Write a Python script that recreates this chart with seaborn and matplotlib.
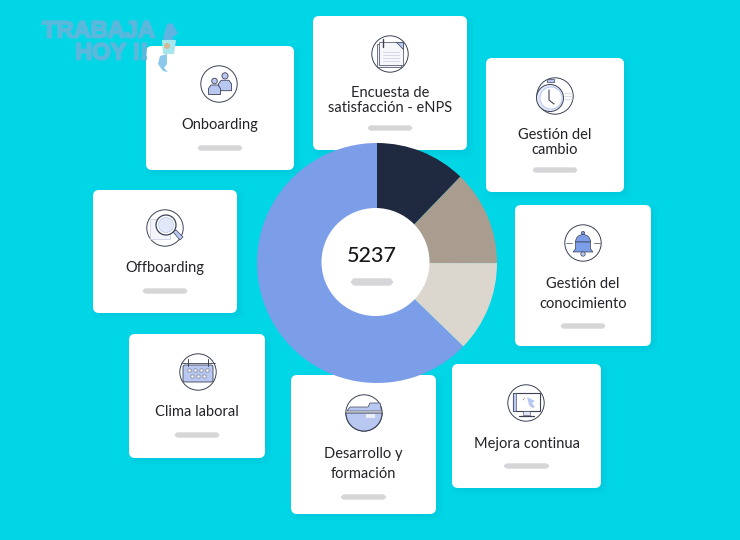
import numpy as np
import matplotlib
matplotlib.use('Agg')
import matplotlib.pyplot as plt
import matplotlib.patheffects as pe
import seaborn as sns
from matplotlib.patches import FancyBboxPatch, Circle, Polygon, Rectangle, Wedge

# valores del grafico
total_label = '5237'
segmentos = ['Oscuro', 'Taupe', 'Claro', 'Azul']
valores = [640, 670, 640, 3287]
colores = ['#1f2a40', '#a99d90', '#dbd7cf', '#7c9de8']

tarjetas = ['Onboarding', 'Encuesta de\nsatisfacción - eNPS', 'Gestión del\ncambio',
            'Gestión del\nconocimiento', 'Mejora continua', 'Desarrollo y\nformación',
            'Clima laboral', 'Offboarding']

FONDO = '#01d6e7'
AZUL = '#7c9de8'
AZUL_CLARO = '#b9c8f0'
LINEA = '#3c4256'
BARRA = '#d6d6d8'

sns.set_theme(style='white')
plt.rcParams['font.family'] = ['Lato', 'DejaVu Sans']

fig = plt.figure(figsize=(7.4, 5.4), dpi=100, facecolor=FONDO)


def ejes_pixeles(zorder):
    ax = fig.add_axes([0, 0, 1, 1], zorder=zorder)
    ax.set_xlim(0, 740)
    ax.set_ylim(540, 0)
    ax.axis('off')
    ax.patch.set_alpha(0)
    return ax


fondo = ejes_pixeles(1)
frente = ejes_pixeles(3)


def barra(ax, cx, cy, w=48, h=5):
    ax.add_patch(FancyBboxPatch((cx - w / 2 + h / 2, cy - h / 2 + 0.5), w - h, h - 1,
                                boxstyle=f'round,pad=0,rounding_size={h / 2}',
                                mutation_aspect=1, fc=BARRA, ec=BARRA, lw=1))


def tarjeta(ax, x0, y0, x1, y1, texto, ty, by, paso=15):
    # sombra suave
    for i, a in zip([9, 6, 3], [0.012, 0.018, 0.025]):
        ax.add_patch(FancyBboxPatch((x0 + 6 - i, y0 + 6 - i), x1 - x0 + 2 * i - 6, y1 - y0 + 2 * i - 6,
                                    boxstyle='round,pad=0,rounding_size=8', fc='#203a70', ec='none', alpha=a))
    ax.add_patch(FancyBboxPatch((x0 + 6, y0 + 6), x1 - x0 - 12, y1 - y0 - 12,
                                boxstyle='round,pad=6,rounding_size=6', fc='white', ec='none'))
    cx = (x0 + x1) / 2
    for i, linea in enumerate(texto.split('\n')):
        ax.text(cx, ty + 1 + i * paso, linea, ha='center', va='center', fontsize=10.5, color='#23242a')
    barra(ax, cx, by)


def anillo(ax, cx, cy):
    ax.add_patch(Circle((cx, cy), 18.2, fc='white', ec=LINEA, lw=0.7))


def persona(ax, cx, cy, esc=1.0):
    ax.add_patch(Circle((cx, cy - 6.5 * esc), 2.8 * esc, fc=AZUL_CLARO, ec=LINEA, lw=0.6))
    ax.add_patch(Polygon([(cx - 6 * esc, cy + 7 * esc), (cx - 6 * esc, cy + 1 * esc), (cx - 3.5 * esc, cy - 2.5 * esc),
                          (cx + 3.5 * esc, cy - 2.5 * esc), (cx + 6 * esc, cy + 1 * esc), (cx + 6 * esc, cy + 7 * esc)],
                         fc=AZUL_CLARO, ec=LINEA, lw=0.6))


def icono_onboarding(ax, cx, cy):
    anillo(ax, cx, cy)
    persona(ax, cx + 6, cy - 1, 1.1)
    persona(ax, cx - 4.5, cy + 3.5, 1.0)


def icono_encuesta(ax, cx, cy):
    anillo(ax, cx, cy)
    ax.add_patch(Rectangle((cx - 13, cy - 10), 24, 23, fc='#eef0f8', ec=LINEA, lw=0.5))
    ax.add_patch(Rectangle((cx - 11, cy - 12), 24, 23, fc='#f6f7fb', ec=LINEA, lw=0.5))
    for dy in [-2, 1, 4, 7]:
        ax.plot([cx - 7, cx + 9], [cy + dy, cy + dy], color='#d5d9e8', lw=0.7)
    ax.plot([cx - 7, cx - 7], [cy - 15, cy - 7], color=LINEA, lw=1)
    ax.add_patch(Polygon([(cx + 6, cy - 12), (cx + 13, cy - 12), (cx + 13, cy - 5)], fc=AZUL_CLARO, ec=LINEA, lw=0.5))


def icono_reloj(ax, cx, cy):
    anillo(ax, cx, cy)
    ax.add_patch(Rectangle((cx - 8, cy - 17), 7, 3, fc=AZUL_CLARO, ec=LINEA, lw=0.5))
    ax.add_patch(Circle((cx - 5, cy + 2), 13.5, fc='#e4e9f9', ec=LINEA, lw=0.7))
    ax.add_patch(Circle((cx - 4, cy + 2), 11, fc='white', ec=AZUL_CLARO, lw=0.7))
    ax.plot([cx - 6, cx - 6, cx - 1], [cy - 6, cy + 4, cy + 8], color=LINEA, lw=0.8)
    for dy in [-3, 0, 3]:
        ax.plot([cx + 9, cx + 17], [cy + dy, cy + dy], color='#d5d9e8', lw=0.6)


def icono_campana(ax, cx, cy):
    anillo(ax, cx, cy)
    ax.add_patch(Wedge((cx, cy - 1), 7.5, 180, 360, fc=AZUL, ec=LINEA, lw=0.5))
    ax.add_patch(Polygon([(cx - 7.5, cy - 1), (cx + 7.5, cy - 1), (cx + 7.5, cy + 6), (cx + 10, cy + 9), (cx - 10, cy + 9), (cx - 7.5, cy + 6)],
                         fc=AZUL, ec=LINEA, lw=0.5))
    ax.add_patch(Circle((cx, cy + 11), 2.2, fc=AZUL_CLARO, ec=LINEA, lw=0.5))
    ax.add_patch(Circle((cx, cy - 10), 1.6, fc=AZUL, ec=LINEA, lw=0.5))
    ax.plot([cx - 17, cx - 11], [cy, cy], color=LINEA, lw=0.5)
    ax.plot([cx + 11, cx + 17], [cy, cy], color=LINEA, lw=0.5)


def icono_monitor(ax, cx, cy):
    anillo(ax, cx, cy)
    ax.add_patch(Rectangle((cx - 13, cy - 10), 27, 18, fc='white', ec=LINEA, lw=0.8))
    ax.add_patch(Rectangle((cx - 13, cy - 10), 2.5, 18, fc=AZUL_CLARO, ec=LINEA, lw=0.4))
    ax.add_patch(Rectangle((cx - 3, cy + 8), 7, 4, fc='#dfe5f6', ec=LINEA, lw=0.4))
    ax.plot([cx - 7, cx + 8], [cy + 13, cy + 13], color=LINEA, lw=0.9)
    ax.add_patch(Polygon([(cx + 1, cy - 6), (cx + 9, cy - 2), (cx + 6, cy), (cx + 9, cy + 4), (cx + 6, cy + 5), (cx + 3, cy + 2)],
                         fc=AZUL_CLARO, ec='none'))
    ax.plot([cx - 3, cx - 1], [cy - 3, cy - 5], color=LINEA, lw=0.6, ls=':')


def icono_carpeta(ax, cx, cy):
    anillo(ax, cx, cy)
    ax.add_patch(Wedge((cx, cy), 18, 0, 180, fc=AZUL_CLARO, ec=LINEA, lw=0.7))
    ax.add_patch(Polygon([(cx - 17, cy - 2), (cx - 14, cy - 6), (cx + 4, cy - 6), (cx + 6, cy - 10), (cx + 16, cy - 10), (cx + 17.5, cy - 2)],
                         fc=AZUL_CLARO, ec=LINEA, lw=0.5))
    ax.add_patch(Rectangle((cx + 2, cy + 1), 9, 4, fc='white', ec='none', alpha=0.7))


def icono_calendario(ax, cx, cy):
    anillo(ax, cx, cy)
    ax.add_patch(FancyBboxPatch((cx - 15, cy - 7), 30, 17, boxstyle='round,pad=0,rounding_size=2',
                                fc=AZUL_CLARO, ec=LINEA, lw=0.6))
    ax.plot([cx - 17, cx + 17], [cy - 9, cy - 9], color=LINEA, lw=0.6)
    for dx in [-9, -3, 3, 9]:
        ax.add_patch(Rectangle((cx + dx - 1.5, cy - 3), 3, 3, fc='white', ec=LINEA, lw=0.3))
    for dx in [-6, 0, 6]:
        ax.add_patch(Rectangle((cx + dx - 1.5, cy + 3), 3, 3, fc='white', ec=LINEA, lw=0.3))
    ax.plot([cx - 10, cx - 10], [cy - 13, cy - 6], color=LINEA, lw=0.7)
    ax.plot([cx + 10, cx + 10], [cy - 13, cy - 6], color=LINEA, lw=0.7)


def icono_lupa(ax, cx, cy):
    anillo(ax, cx, cy)
    ax.add_patch(Rectangle((cx - 15, cy - 9), 20, 20, fc='#f3f5fb', ec='#c5cbe0', lw=0.5))
    ax.add_patch(Circle((cx + 1, cy - 3), 10, fc='white', ec=LINEA, lw=0.9))
    ax.add_patch(Circle((cx + 1, cy - 3), 7.5, fc='#e2e8f8', ec=AZUL_CLARO, lw=0.5))
    ax.add_patch(Polygon([(cx + 8, cy + 4), (cx + 11, cy + 2), (cx + 18, cy + 9), (cx + 15, cy + 12)],
                         fc=AZUL_CLARO, ec=LINEA, lw=0.5))


# tarjetas
iconos = [icono_onboarding, icono_encuesta, icono_reloj, icono_campana,
          icono_monitor, icono_carpeta, icono_calendario, icono_lupa]
cajas = [(146, 46, 294, 170), (313, 16, 467, 150), (486, 58, 624, 192), (515, 205, 651, 346),
         (452, 364, 601, 488), (291, 375, 436, 514), (129, 334, 265, 458), (93, 190, 237, 313)]
centros_icono = [(219, 84), (390, 54), (555, 96), (583, 243), (526, 403), (364, 413), (198, 372), (165, 228)]
y_texto = [124, 92, 134, 283, 443, 453, 411, 267]
y_barra = [148, 128, 170, 326, 466, 497, 435, 291]
pasos = [15, 15, 15, 20, 15, 20, 15, 15]

for caja, nombre, ty, by, paso, icono, centro in zip(cajas, tarjetas, y_texto, y_barra, pasos, iconos, centros_icono):
    tarjeta(fondo, *caja, nombre, ty, by, paso)
    icono(fondo, *centro)

# marca de agua, va por encima de la tarjeta
for linea, x, y in [('TRABAJA', 98.5, 31), ('HOY !!', 112, 53)]:
    frente.text(x, y, linea, ha='center', va='center', fontsize=17, fontweight='bold',
                family=['Liberation Sans'], color='#5ab8dc',
                path_effects=[pe.withStroke(linewidth=1.4, foreground='#5ab8dc')])
frente.add_patch(Polygon([(163, 38), (167, 24), (172, 23), (176, 30), (178, 33), (172, 38), (176, 42), (175, 46), (166, 46)],
                         fc='#5fb4e2', ec='none'))
frente.add_patch(Polygon([(162, 40), (176, 40), (174, 54), (163, 54)], fc='#a8e6ee', ec='none'))
frente.add_patch(Circle((167, 46), 3, fc='#d9b38a', ec='none', alpha=0.9))
frente.add_patch(Polygon([(160, 56), (167, 54), (167, 64), (164, 68), (168, 72), (163, 71), (158, 64)],
                         fc='#8cc8ec', ec='none'))

# donut
ax_pie = fig.add_axes([257 / 740, 1 - 383 / 540, 240 / 740, 240 / 540], zorder=2)
ax_pie.pie(valores, colors=colores, startangle=90, counterclock=False, radius=1,
           wedgeprops={'linewidth': 0})
ax_pie.set_xlim(-1, 1)
ax_pie.set_ylim(-1, 1)

# centro
frente.add_patch(Circle((375.5, 262), 54, fc='white', ec='none'))
frente.text(372, 255.5, total_label, ha='center', va='center', fontsize=15.5, fontweight='medium', color='#17181d')
barra(frente, 372, 282, w=47, h=7)

fig.savefig('out.png', dpi=100, facecolor=FONDO)
